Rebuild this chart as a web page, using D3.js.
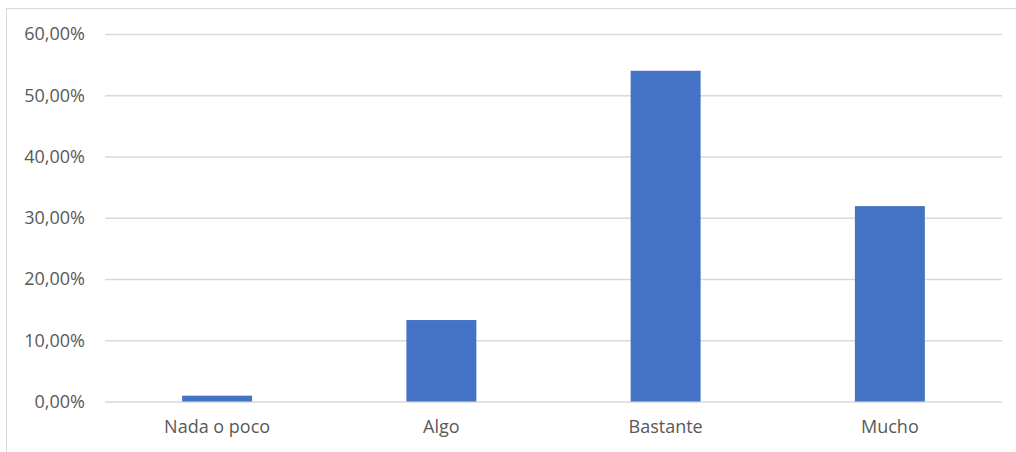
<!DOCTYPE html>
<html>
<head>
<meta charset="utf-8">
<script src="https://cdn.jsdelivr.net/npm/d3@7"></script>
<style>
  html, body { margin: 0; padding: 0; background: #fff; }
  svg { display: block; }
</style>
</head>
<body>
<svg id="chart" width="1016" height="452"></svg>
<script>
// Response categories and their share of answers (percent)
const categories = ["Nada o poco", "Algo", "Bastante", "Mucho"];
const values = [0.95, 13.3, 54.0, 31.9];
const yTicks = [0, 10, 20, 30, 40, 50, 60];

const svg = d3.select("#chart");
const W = 1016, H = 452;
const plot = { left: 105, right: 1002, top: 34, bottom: 401.5 };

// Chart area frame
svg.append("rect")
  .attr("x", 6.5).attr("y", 8.5)
  .attr("width", W + 10).attr("height", H + 10)
  .attr("fill", "#fff")
  .attr("stroke", "#d9d9d9").attr("stroke-width", 1);

const x = d3.scaleBand()
  .domain(categories)
  .range([plot.left, plot.right])
  .paddingInner(0.688)
  .paddingOuter(0.344);

const y = d3.scaleLinear()
  .domain([0, 60])
  .range([plot.bottom, plot.top]);

const font = "'Open Sans', 'Noto Sans', sans-serif";
const fontSize = "18px";

// Horizontal gridlines and value labels
const yAxis = d3.axisLeft(y)
  .tickValues(yTicks)
  .tickSize(-(plot.right - plot.left))
  .tickPadding(20)
  .tickFormat(d => d3.format(".2f")(d).replace(".", ",") + "%");

const gy = svg.append("g")
  .attr("transform", `translate(${plot.left},0)`)
  .call(yAxis);
gy.select(".domain").remove();
gy.selectAll(".tick line")
  .attr("stroke", "#d9d9d9").attr("stroke-width", 1.3);
gy.selectAll(".tick text")
  .attr("fill", "#595959")
  .style("font-family", font)
  .style("font-size", fontSize);

// Bars
svg.append("g").selectAll("rect")
  .data(values)
  .join("rect")
  .attr("x", (d, i) => x(categories[i]))
  .attr("width", x.bandwidth())
  .attr("y", d => y(d))
  .attr("height", d => y(0) - y(d))
  .attr("fill", "#4472c4");

// Category labels
const xAxis = d3.axisBottom(x).tickSize(0).tickPadding(18.5);
const gx = svg.append("g")
  .attr("transform", `translate(0,${plot.bottom})`)
  .call(xAxis);
gx.select(".domain").remove();
gx.selectAll(".tick text")
  .attr("fill", "#595959")
  .style("font-family", font)
  .style("font-size", fontSize);
</script>
</body>
</html>
